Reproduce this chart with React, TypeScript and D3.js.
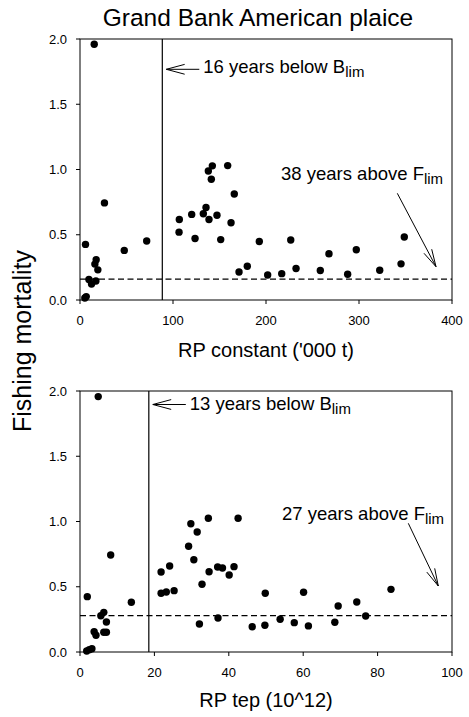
import React from "react";
import * as d3 from "d3";

// ---- Data ----
const topRP = [15.3, 26.3, 5.9, 47.6, 71.7, 17.4, 16.0, 19.2, 9.6, 12.4, 17.1, 5.2, 6.7,
  106.8, 106.5, 120.1, 123.7, 132.6, 135.5, 138.7, 138.0, 142.3, 141.2, 147.3, 151.3, 158.8,
  165.9, 162.4, 171.0, 179.9, 192.8, 201.8, 216.9, 226.6, 232.3, 258.4, 267.7, 287.8, 297.1,
  322.3, 345.2, 348.7];
const topF = [1.96, 0.744, 0.426, 0.38, 0.452, 0.308, 0.275, 0.231, 0.157, 0.123, 0.146, 0.015, 0.026,
  0.617, 0.52, 0.656, 0.471, 0.661, 0.709, 0.617, 0.989, 1.028, 0.925, 0.65, 0.463, 1.03,
  0.812, 0.592, 0.215, 0.259, 0.448, 0.192, 0.202, 0.46, 0.241, 0.226, 0.354, 0.197, 0.385,
  0.228, 0.277, 0.483];

const botRP = [4.9, 8.25, 1.96, 13.8, 6.4, 5.6, 7.1, 3.8, 4.3, 6.4, 7.1, 1.8, 2.5, 3.2,
  21.8, 24.1, 21.8, 23.2, 25.3, 29.8, 31.5, 34.5, 29.2, 30.6, 34.7, 32.8, 37.0, 38.3, 40.1,
  41.4, 42.5, 32.1, 37.1, 46.3, 49.7, 49.8, 53.8, 57.6, 61.4, 60.1, 68.5, 69.4, 74.4, 76.8, 83.6];
const botF = [1.957, 0.743, 0.424, 0.381, 0.304, 0.278, 0.23, 0.156, 0.128, 0.151, 0.151, 0.008, 0.018, 0.025,
  0.613, 0.659, 0.45, 0.46, 0.47, 0.983, 0.92, 1.025, 0.81, 0.707, 0.615, 0.519, 0.651, 0.644, 0.59,
  0.654, 1.025, 0.215, 0.261, 0.194, 0.205, 0.45, 0.251, 0.225, 0.2, 0.458, 0.228, 0.353, 0.383, 0.276, 0.48];

const topXTicks = [0, 100, 200, 300, 400];
const botXTicks = [0, 20, 40, 60, 80, 100];
const yTicks = [0, 0.5, 1.0, 1.5, 2.0];

const topBlim = 88.5;
const topFlim = 0.16;
const botBlim = 18.5;
const botFlim = 0.279;

const titleText = "Grand Bank American plaice";
const yLabel = "Fishing mortality";
const topXLabel = "RP constant ('000 t)";
const botXLabel = "RP tep (10^12)";
const topBelow = "16 years below B";
const topAbove = "38 years above F";
const botBelow = "13 years below B";
const botAbove = "27 years above F";

const FONT = "'Liberation Sans', Arial, Helvetica, sans-serif";

function arrowHead(x1: number, y1: number, x2: number, y2: number, len = 18, ang = 15) {
  const a = Math.atan2(y1 - y2, x1 - x2);
  const r = (ang * Math.PI) / 180;
  const p1 = [x2 + len * Math.cos(a + r), y2 + len * Math.sin(a + r)];
  const p2 = [x2 + len * Math.cos(a - r), y2 + len * Math.sin(a - r)];
  return `M${p1[0]},${p1[1]}L${x2},${y2}L${p2[0]},${p2[1]}`;
}

type PanelProps = {
  xs: number[];
  fs: number[];
  xMax: number;
  xTicks: number[];
  y0: number;
  y2: number;
  blim: number;
  flim: number;
  xLabel: string;
  xLabelY: number;
  below: string;
  above: string;
  belowArrowY: number;
  belowTextY: number;
  aboveTextX: number;
  aboveTextY: number;
  aboveArrow: [number, number, number, number];
};

function Panel(p: PanelProps) {
  const x = d3.scaleLinear().domain([0, p.xMax]).range([80, 452]);
  const y = d3.scaleLinear().domain([0, 2]).range([p.y0, p.y2]);
  const fmtY = d3.format(".1f");
  const bx = x(p.blim);
  const [ax1, ay1, ax2, ay2] = p.aboveArrow;
  return (
    <g>
      <rect x={80} y={y(2)} width={372} height={p.y0 - y(2)} fill="none" stroke="#000" strokeWidth={1} />
      {yTicks.map((t) => (
        <g key={"y" + t}>
          <line x1={76} x2={80} y1={y(t)} y2={y(t)} stroke="#000" />
          <text x={67} y={y(t) + 4.5} textAnchor="end" fontSize={13} fontFamily={FONT}>
            {fmtY(t)}
          </text>
        </g>
      ))}
      {p.xTicks.map((t) => (
        <g key={"x" + t}>
          <line x1={x(t)} x2={x(t)} y1={p.y0} y2={p.y0 + 4} stroke="#000" />
          <text x={x(t)} y={p.y0 + 25} textAnchor="middle" fontSize={13} fontFamily={FONT}>
            {t}
          </text>
        </g>
      ))}
      <line x1={bx} x2={bx} y1={y(2)} y2={p.y0} stroke="#000" strokeWidth={1.2} />
      <line x1={80} x2={452} y1={y(p.flim)} y2={y(p.flim)} stroke="#000" strokeWidth={1.2} strokeDasharray="6,3.5" />
      {p.xs.map((v, i) => (
        <circle key={i} cx={x(v)} cy={y(p.fs[i])} r={3.7} fill="#000" />
      ))}
      {/* below Blim annotation */}
      <line x1={bx + 37} x2={bx + 4} y1={p.belowArrowY} y2={p.belowArrowY} stroke="#000" strokeWidth={1} />
      <path d={arrowHead(bx + 37, p.belowArrowY, bx + 4, p.belowArrowY, 19, 15)} fill="none" stroke="#000" strokeWidth={1} />
      <text x={bx + 41} y={p.belowTextY} fontSize={18.5} fontFamily={FONT}>
        {p.below}
        <tspan fontSize={15} dy={4}>lim</tspan>
      </text>
      {/* above Flim annotation */}
      <text x={p.aboveTextX} y={p.aboveTextY} fontSize={18.5} fontFamily={FONT}>
        {p.above}
        <tspan fontSize={15} dy={4}>lim</tspan>
      </text>
      <line x1={ax1} y1={ay1} x2={ax2} y2={ay2} stroke="#000" strokeWidth={1} />
      <path d={arrowHead(ax1, ay1, ax2, ay2, 18, 14)} fill="none" stroke="#000" strokeWidth={1} />
      <text x={266} y={p.xLabelY} textAnchor="middle" fontSize={20} fontFamily={FONT}>
        {p.xLabel}
      </text>
    </g>
  );
}

export default function App() {
  return (
    <svg width={469} height={717} style={{ position: "absolute", left: 0, top: 0, background: "#fff" }}>
      <rect x={0} y={0} width={469} height={717} fill="#fff" />
      <text x={258} y={26} textAnchor="middle" fontSize={24.5} fontFamily={FONT}>
        {titleText}
      </text>
      <text transform="translate(31,341) rotate(-90)" textAnchor="middle" fontSize={25} fontFamily={FONT}>
        {yLabel}
      </text>
      <Panel
        xs={topRP}
        fs={topF}
        xMax={400}
        xTicks={topXTicks}
        y0={300}
        y2={39}
        blim={topBlim}
        flim={topFlim}
        xLabel={topXLabel}
        xLabelY={357}
        below={topBelow}
        above={topAbove}
        belowArrowY={69.3}
        belowTextY={72.7}
        aboveTextX={281}
        aboveTextY={180}
        aboveArrow={[397.3, 193.3, 436, 266.7]}
      />
      <Panel
        xs={botRP}
        fs={botF}
        xMax={100}
        xTicks={botXTicks}
        y0={652}
        y2={391}
        blim={botBlim}
        flim={botFlim}
        xLabel={botXLabel}
        xLabelY={707}
        below={botBelow}
        above={botAbove}
        belowArrowY={404.5}
        belowTextY={410}
        aboveTextX={282}
        aboveTextY={520}
        aboveArrow={[408.3, 523.3, 438.3, 586]}
      />
    </svg>
  );
}
